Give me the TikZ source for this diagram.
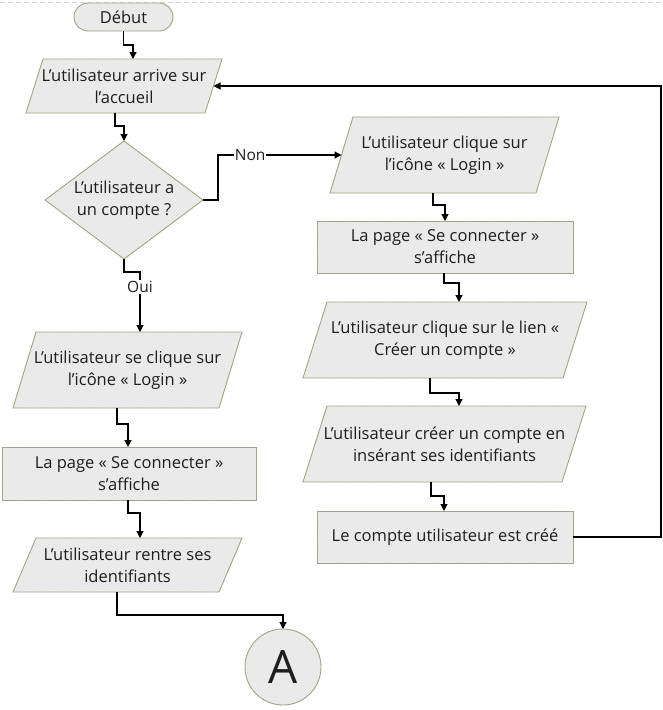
\documentclass[tikz,border=0pt]{standalone}
\usepackage{fontspec}
\setmainfont{Open Sans}
\usetikzlibrary{arrows.meta,calc,patterns,backgrounds}
\definecolor{shfill}{HTML}{EEEEEE}
\definecolor{shdraw}{HTML}{A3A38A}
\definecolor{hatch}{HTML}{E3E3E3}
\definecolor{txt}{HTML}{1E1E1E}
\tikzset{
  box/.style={inner sep=0pt, outer sep=0pt, align=center, font=\fontsize{16.5}{22}\selectfont, text=txt},
  hatchstyle/.style={pattern=north east lines, pattern color=hatch},
  filledbox/.style={box, draw=shdraw, line width=0.9pt, hatchstyle, preaction={fill=shfill}},
  conn/.style={line width=1.2pt, -{Triangle[width=7pt,length=7pt]}},
  lbl/.style={fill=white, inner sep=1pt, font=\fontsize{15.5}{15.5}\selectfont, text=txt}
}
\newcommand\drawpara[2]{%
  \path[fill=shfill] (#1.south west) -- ($(#1.north west)+(#2,0)$) -- (#1.north east) -- ($(#1.south east)+(-#2,0)$) -- cycle;
  \path[hatchstyle, draw=shdraw, line width=0.9pt] (#1.south west) -- ($(#1.north west)+(#2,0)$) -- (#1.north east) -- ($(#1.south east)+(-#2,0)$) -- cycle;
}
\newcommand\drawdiam[1]{%
  \path[fill=shfill] (#1.north) -- (#1.east) -- (#1.south) -- (#1.west) -- cycle;
  \path[hatchstyle, draw=shdraw, line width=0.9pt] (#1.north) -- (#1.east) -- (#1.south) -- (#1.west) -- cycle;
}
\begin{document}
\begin{tikzpicture}[x=1pt,y=-1pt]
\useasboundingbox (0,0) rectangle (663,710);

% terminal
\node[filledbox, rounded corners=14pt, minimum width=99pt, minimum height=28pt] (debut) at (123.5,17) {Début};

% left column
\node[box, minimum width=196pt, minimum height=54pt] (p1) at (124,86) {L’utilisateur arrive sur\\l’accueil};
\node[box, minimum width=158pt, minimum height=118pt] (d) at (124,200) {L’utilisateur a\\un compte ?};
\node[box, minimum width=229pt, minimum height=76pt] (l1) at (127.5,370) {L’utilisateur se clique sur\\l’icône « Login »};
\node[filledbox, minimum width=254pt, minimum height=53pt] (l2) at (129,473.5) {La page « Se connecter »\\s’affiche};
\node[box, minimum width=229pt, minimum height=54pt] (l3) at (127.5,565) {L’utilisateur rentre ses\\identifiants};
\node[filledbox, circle, minimum size=76pt, font=\fontsize{46}{46}\selectfont] (A) at (283,667) {A};

% right column
\node[box, minimum width=229pt, minimum height=76pt] (r1) at (444.5,155) {L’utilisateur clique sur\\l’icône « Login »};
\node[filledbox, minimum width=256pt, minimum height=52pt] (r2) at (445,247) {La page « Se connecter »\\s’affiche};
\node[box, minimum width=284pt, minimum height=76pt] (r3) at (445,340) {L’utilisateur clique sur le lien «\\Créer un compte »};
\node[box, minimum width=283pt, minimum height=76pt] (r4) at (444.5,444) {L’utilisateur créer un compte en\\insérant ses identifiants};
\node[filledbox, minimum width=256pt, minimum height=52pt] (r5) at (445,537) {Le compte utilisateur est créé};

\coordinate (loopx) at (661,0);

\begin{scope}[on background layer]
  \fill[white] (0,0) rectangle (663,710);
  \draw[black!15, line width=0.8pt, dash pattern=on 5pt off 3pt] (0,2) -- (663,2);
  \drawpara{p1}{17}
  \drawdiam{d}
  \drawpara{l1}{23}
  \drawpara{l3}{23}
  \drawpara{r1}{23}
  \drawpara{r3}{24}
  \drawpara{r4}{24}
\end{scope}

% connectors
\draw[conn] (debut.south) -- ++(0,14) -| ($(p1.north)+(9,0)$);
\draw[conn] ($(p1.south)+(-9,0)$) -- ++(0,13) -| (d.north);
\draw[conn] (d.east) -- ++(15,0) |- ($(r1.west)+(11.5,0)$) node[lbl, pos=0.63] {Non};
\draw[conn] (d.south) -- ++(0,13) -| ($(l1.north)+(12.5,0)$) node[lbl, pos=0.625] {Oui};
\draw[conn] ($(l1.south)+(-10.5,0)$) -- ++(0,16) -| ($(l2.north)+(-1,0)$);
\draw[conn] ($(l2.south)+(-1,0)$) -- ++(0,13) -| ($(l3.north)+(12.5,0)$);
\draw[conn] ($(l3.south)+(-10.5,0)$) -- ++(0,23) -| (A.north);
\draw[conn] ($(r1.south)+(-11.5,0)$) -- ++(0,12) -| (r2.north);
\draw[conn] ($(r2.south)+(-1,0)$) -- ++(0,10) -| ($(r3.north)+(14,0)$);
\draw[conn] ($(r3.south)+(-15,0)$) -- ++(0,15) -| ($(r4.north)+(14.5,0)$);
\draw[conn] ($(r4.south)+(-13.5,0)$) -- ++(0,14) -| ($(r5.north)+(-1,0)$);
\draw[conn] (r5.east) -- (r5.east -| loopx) -- (loopx |- p1.east) -- ($(p1.east)+(-8.5,0)$);
\end{tikzpicture}
\end{document}
